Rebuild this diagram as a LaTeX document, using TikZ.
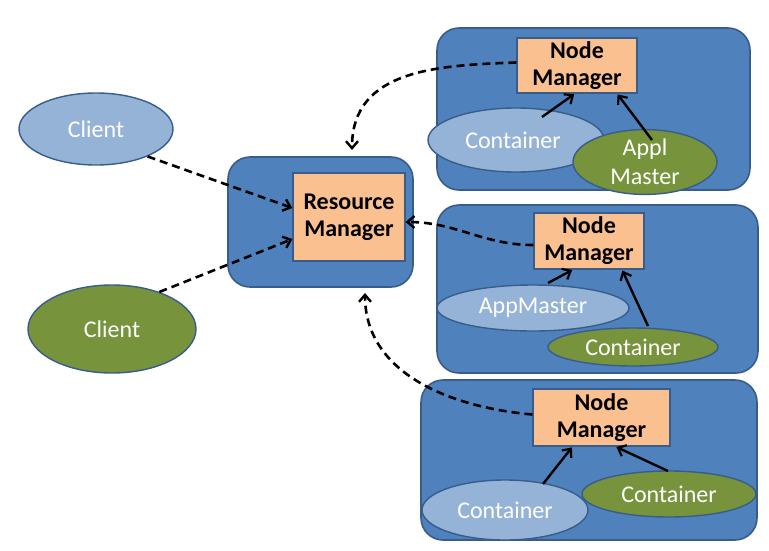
\documentclass[tikz,border=0pt]{standalone}
\usepackage{fontspec}
\setmainfont{Carlito}
\usetikzlibrary{arrows.meta,shapes.geometric}
\definecolor{boxblue}{HTML}{4F81BD}
\definecolor{edgeblue}{HTML}{385D8A}
\definecolor{nmorange}{HTML}{FAC090}
\definecolor{lightblue}{HTML}{95B3D7}
\definecolor{olive}{HTML}{77933C}
\tikzset{
  hostbox/.style={draw=edgeblue,line width=1.6pt,fill=boxblue,rounded corners=22pt,inner sep=0pt},
  mgrbox/.style={draw=edgeblue,line width=1.2pt,fill=nmorange,inner sep=0pt,align=center,font=\bfseries\fontsize{24}{27}\selectfont,text=black},
  lightell/.style={ellipse,draw=edgeblue,line width=1.4pt,fill=lightblue,inner sep=0pt,text=white,font=\fontsize{24}{29}\selectfont,align=center},
  greenell/.style={ellipse,draw=edgeblue,line width=1.4pt,fill=olive,inner sep=0pt,text=white,font=\fontsize{24}{29}\selectfont,align=center},
  dasharrow/.style={line width=2.6pt,dash pattern=on 8pt off 5pt,-{Straight Barb[length=7pt,width=12pt,line width=2.4pt]}},
  solidarrow/.style={line width=2.4pt,-{Straight Barb[length=7pt,width=12pt,line width=2.2pt]}}
}
\begin{document}
\begin{tikzpicture}[x=1pt,y=-1pt]
\useasboundingbox[fill=white] (0,0) rectangle (769,550);

% host boxes
\node[hostbox,minimum width=313pt,minimum height=162pt] (host1) at (593.5,109) {};
\node[hostbox,minimum width=321pt,minimum height=168pt] (host2) at (597.5,289) {};
\node[hostbox,minimum width=336pt,minimum height=160pt] (host3) at (589,460) {};
\node[hostbox,minimum width=185pt,minimum height=130pt] (rm) at (320.5,222) {};

% managers
\node[mgrbox,minimum width=120pt,minimum height=55pt] (nm1) at (577,65.5) {Node\\Manager};
\node[mgrbox,minimum width=110pt,minimum height=56pt] (nm2) at (589,241) {Node\\Manager};
\node[mgrbox,minimum width=137pt,minimum height=57pt] (nm3) at (601.5,417.5) {Node\\Manager};
\node[mgrbox,minimum width=112pt,minimum height=88pt] (rmi) at (349,217) {Resource\\Manager};

% clients
\node[lightell,minimum width=154pt,minimum height=72pt] (c1) at (96,129) {Client};
\node[greenell,minimum width=168pt,minimum height=88pt] (c2) at (112,329) {Client};

% containers host1
\node[lightell,minimum width=176pt,minimum height=64pt] (h1c) at (516,140) {\hspace*{-6pt}Container};
\node[greenell,minimum width=144pt,minimum height=56pt] (h1a) at (645,162) {Appl\\Master};

% containers host2
\node[lightell,minimum width=192pt,minimum height=46pt] (h2a) at (533,308) {AppMaster};
\node[greenell,minimum width=170pt,minimum height=38pt] (h2c) at (633,347) {Container};

% containers host3
\node[greenell,minimum width=174pt,minimum height=46pt] (h3g) at (669,494) {Container};
\node[lightell,minimum width=166pt,minimum height=60pt] (h3l) at (505,510) {Container};

% arrow start points
\coordinate (s1a) at (542,117);
\coordinate (s1b) at (652,140);
\coordinate (s2a) at (548,283);
\coordinate (s2b) at (648,326);
\coordinate (s3a) at (543,484);
\coordinate (s3b) at (668,471);
\coordinate (t1) at (352,150);
\coordinate (t3) at (365,293);

% solid arrows
\draw[solidarrow,shorten >=1pt] (s1a) -- ([xshift=-2pt]nm1.south);
\draw[solidarrow,shorten >=1pt] (s1b) -- ([xshift=40pt]nm1.south);
\draw[solidarrow,shorten >=1pt] (s2a) -- ([xshift=-16pt]nm2.south);
\draw[solidarrow,shorten >=1pt] (s2b) -- ([xshift=33pt]nm2.south);
\draw[solidarrow,shorten >=1pt] (s3a) -- ([xshift=-29pt]nm3.south);
\draw[solidarrow,shorten >=1pt] (s3b) -- ([xshift=14pt]nm3.south);

% dashed arrows
\draw[dasharrow] (c1.-28) -- ([yshift=9pt]rmi.west);
\draw[dasharrow] (c2.38) -- ([yshift=-22pt]rmi.west);
\draw[dasharrow] ([yshift=-4pt]nm2.west) to[out=180,in=0] ([yshift=-5pt]rmi.east);
\draw[dasharrow] ([yshift=3pt]nm1.west) to[out=182,in=90,looseness=1.1] (t1);
\draw[dasharrow] ([yshift=3pt]nm3.west) to[out=175,in=-90,looseness=1.0] (t3);
\end{tikzpicture}
\end{document}
